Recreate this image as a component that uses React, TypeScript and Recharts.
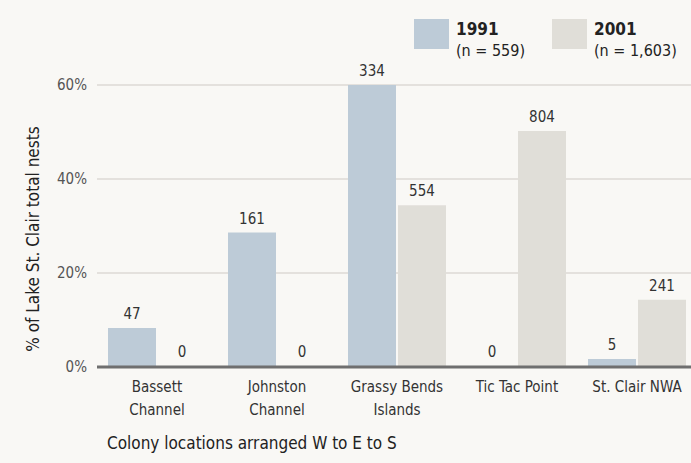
import React from 'react';
import { BarChart, Bar, XAxis, YAxis, CartesianGrid, LabelList } from 'recharts';

const categories = ['Bassett|Channel', 'Johnston|Channel', 'Grassy Bends|Islands', 'Tic Tac Point', 'St. Clair NWA'];
const pct1991 = [8.3, 28.6, 60, 0, 1.7];
const pct2001 = [0, 0, 34.4, 50.2, 14.3];
const nests1991 = [47, 161, 334, 0, 5];
const nests2001 = [0, 0, 554, 804, 241];
const yTicks = [0, 20, 40, 60];

const FONT = '"DejaVu Sans Condensed", "Liberation Sans Narrow", "Open Sans", sans-serif';
const C1991 = '#bdcbd7';
const C2001 = '#e0ded8';

const data = categories.map((c, i) => ({
  name: c,
  y1991: pct1991[i],
  y2001: pct2001[i],
  n1991: nests1991[i],
  n2001: nests2001[i],
}));

const CategoryTick = (props: any) => {
  const { x, y, payload } = props;
  const lines = String(payload.value).split('|');
  return (
    <text x={x} y={y} textAnchor="middle" fill="#333" fontSize={15} fontFamily={FONT}>
      {lines.map((l, i) => (
        <tspan key={i} x={x} dy={i === 0 ? 17 : 23}>{l}</tspan>
      ))}
    </text>
  );
};

// draws the count above each bar, including the zero-height ones
const CountLabel = (props: any) => {
  const { x, y, width, value } = props;
  if (x == null || y == null) return null;
  return (
    <text x={Number(x) + Number(width) / 2} y={Number(y) - 9} textAnchor="middle" fill="#333" fontSize={15} fontFamily={FONT}>
      {value}
    </text>
  );
};

const YTitle = () => (
  <text
    x={33}
    y={239}
    transform="rotate(-90, 33, 239)"
    textAnchor="middle"
    dominantBaseline="central"
    fill="#222"
    fontSize={17}
    fontFamily={FONT}
  >
    % of Lake St. Clair total nests
  </text>
);

const LegendItem = ({ color, year, n, left }: { color: string; year: string; n: string; left: number }) => (
  <div style={{ position: 'absolute', left, top: 19, display: 'flex' }}>
    <div style={{ width: 35, height: 30, background: color }} />
    <div style={{ marginLeft: 7, marginTop: 0, fontFamily: FONT, fontSize: 16, color: '#222', lineHeight: '21px' }}>
      <div style={{ fontWeight: 'bold', fontSize: 17 }}>{year}</div>
      <div>{n}</div>
    </div>
  </div>
);

export default function App() {
  return (
    <div style={{ position: 'absolute', left: 0, top: 0, width: 691, height: 463, background: '#f9f8f5', overflow: 'hidden' }}>
      <BarChart
        width={691}
        height={463}
        data={data}
        margin={{ top: 85, right: -6, left: 0, bottom: 0 }}
        barGap={2}
        barCategoryGap={11}
      >
        <CartesianGrid vertical={false} stroke="#dcdad5" strokeWidth={1.5} />
        <Bar dataKey="y1991" fill={C1991} minPointSize={1} isAnimationActive={false}>
          <LabelList dataKey="n1991" content={<CountLabel />} />
        </Bar>
        <Bar dataKey="y2001" fill={C2001} minPointSize={1} isAnimationActive={false}>
          <LabelList dataKey="n2001" content={<CountLabel />} />
        </Bar>
        <XAxis
          dataKey="name"
          tick={<CategoryTick />}
          tickLine={false}
          axisLine={{ stroke: '#6f6f6f', strokeWidth: 3 }}
          interval={0}
          height={96}
        />
        <YAxis
          domain={[0, 60]}
          ticks={yTicks}
          tickFormatter={(v) => `${v}%`}
          tick={{ fill: '#555', fontSize: 15, fontFamily: FONT }}
          tickLine={false}
          axisLine={false}
          width={97}
          tickMargin={4}
          label={<YTitle />}
        />
      </BarChart>
      <LegendItem color={C1991} year="1991" n="(n = 559)" left={414} />
      <LegendItem color={C2001} year="2001" n="(n = 1,603)" left={552} />
      <div style={{ position: 'absolute', left: 107, top: 433, fontFamily: FONT, fontSize: 17, color: '#222' }}>
        Colony locations arranged W to E to S
      </div>
    </div>
  );
}
